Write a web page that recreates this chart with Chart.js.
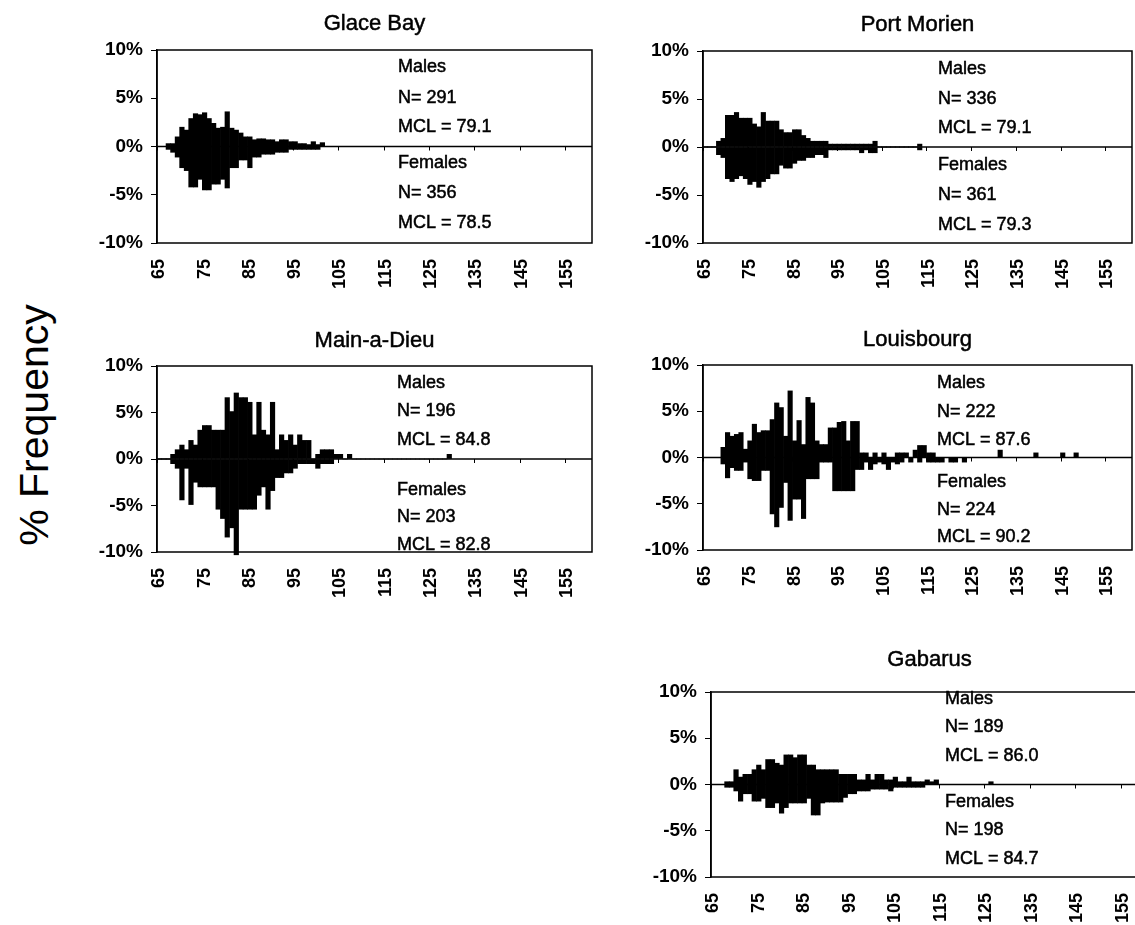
<!DOCTYPE html>
<html lang="en">
<head>
<meta charset="UTF-8">
<title>Carapace length frequency by port</title>
<script src="https://cdn.jsdelivr.net/npm/chart.js@4.4.0"></script>
<style>
  body {
    margin: 0;
    background: #fff;
    width: 1135px;
    height: 925px;
    overflow: hidden;
    position: relative;
    font-family: "Liberation Sans", Arial, sans-serif;
  }
  canvas.panel { position: absolute; }
  #ytitle {
    position: absolute;
    left: 34px;
    top: 425px;
    transform: translate(-50%, -50%) rotate(-90deg);
    font-size: 41px;
    white-space: nowrap;
    color: #000;
  }
</style>
</head>
<body>
<div id="ytitle">% Frequency</div>
<canvas id="glace" class="panel"></canvas>
<canvas id="morien" class="panel"></canvas>
<canvas id="mainadieu" class="panel"></canvas>
<canvas id="louisbourg" class="panel"></canvas>
<canvas id="gabarus" class="panel"></canvas>

<script>
// 1 mm length classes, 65 to 160
const bins = [];
for (let v = 65; v <= 160; v++) bins.push(String(v));
const xTickLabels = ['65', '75', '85', '95', '105', '115', '125', '135', '145', '155'];
const yTickValues = [-10, -5, 0, 5, 10];

// % frequency per length class, starting at 65; females are plotted below zero
const glaceMales = [0, 0, 0.3, 0.3, 1.0, 2.0, 1.7, 2.9, 3.4, 3.3, 3.5, 2.9, 2.4, 1.9, 2.0, 3.6,
  1.9, 1.7, 1.4, 1.0, 1.0, 0.7, 0.8, 0.8, 0.7, 0.7, 0.5, 0.7, 0.7, 0.5, 0.5, 0.3, 0.3, 0.2, 0.5, 0.2, 0.4];
const glaceFemales = [0, 0, -0.3, -0.6, -1.1, -2.2, -2.5, -4.2, -4.2, -3.4, -4.5, -4.5, -3.9, -3.9, -3.4, -4.3,
  -2.2, -2.2, -1.4, -1.4, -2.2, -1.1, -1.1, -0.8, -0.8, -0.8, -0.6, -0.6, -0.6, -0.3, -0.3, -0.3, -0.3, -0.3, -0.3, -0.3];

const morienMales = [0, 0, 0, 0.6, 0.9, 3.3, 3.3, 3.6, 3.0, 3.0, 3.0, 2.4, 2.1, 3.6, 2.7, 2.7,
  2.7, 1.8, 1.5, 1.5, 1.8, 1.8, 1.2, 0.9, 0.6, 0.6, 0.6, 0.6, 0.3, 0.3, 0.3, 0.3, 0.3, 0.3, 0.3, 0.3,
  0.3, 0.3, 0.6, 0, 0, 0, 0, 0, 0, 0, 0, 0, 0.3];
const morienFemales = [0, 0, 0, -0.8, -1.1, -3.3, -3.6, -3.3, -3.0, -3.3, -3.9, -3.6, -4.2, -3.6, -3.3, -2.8,
  -2.8, -1.9, -2.2, -2.2, -1.7, -1.4, -1.4, -1.1, -1.1, -0.8, -0.8, -1.1, -0.3, -0.3, -0.3, -0.3, -0.3, -0.3, -0.3, -0.6,
  -0.3, -0.6, -0.6, 0, 0, 0, 0, 0, 0, 0, 0, 0, -0.3];

const mainMales = [0, 0, 0, 0.5, 1.0, 1.5, 1.0, 2.0, 1.5, 3.1, 3.6, 3.6, 3.1, 3.1, 3.1, 6.6,
  5.1, 7.1, 6.6, 6.6, 6.1, 2.6, 6.1, 3.1, 2.6, 6.1, 1.0, 2.6, 2.0, 2.6, 1.5, 2.6, 2.0, 2.0, 0, 0.5,
  1.0, 1.0, 1.0, 0.5, 0.5, 0, 0.5, 0, 0, 0, 0, 0, 0, 0, 0, 0, 0, 0, 0, 0,
  0, 0, 0, 0, 0, 0, 0, 0, 0.5];
const mainFemales = [0, 0, 0, -0.5, -1.0, -4.4, -1.0, -4.9, -2.5, -3.0, -3.0, -3.0, -3.0, -5.4, -6.4, -8.4,
  -7.4, -10.3, -5.4, -5.4, -5.4, -5.4, -3.9, -3.0, -5.4, -3.4, -2.0, -2.0, -1.5, -1.5, -1.0, -0.5, -0.5, -0.5, -0.5, -1.0,
  -0.5, -0.5, -0.5];

const louisMales = [0, 0, 0, 0, 1.1, 2.7, 2.3, 2.5, 2.7, 0.9, 1.8, 3.6, 2.7, 2.9, 2.9, 4.1,
  5.9, 5.4, 2.3, 7.2, 1.8, 4.0, 1.4, 6.5, 5.9, 1.8, 1.4, 1.4, 3.2, 3.2, 3.8, 3.9, 1.8, 3.9, 3.9, 0.5,
  0.5, 0, 0.5, 0, 0.5, 0, 0, 0.5, 0.5, 0.5, 0, 0.8, 1.3, 1.3, 0.5, 0.5, 0, 0, 0, 0,
  0, 0, 0, 0, 0, 0, 0, 0, 0, 0, 0.8, 0, 0, 0, 0, 0, 0, 0, 0.5, 0, 0, 0, 0, 0,
  0.5, 0, 0, 0.5];
const louisFemales = [0, 0, 0, 0, -0.7, -2.2, -1.1, -1.4, -1.4, -0.5, -2.3, -2.5, -2.5, -1.4, -1.4, -6.1,
  -7.5, -5.4, -2.7, -6.8, -4.5, -4.5, -6.6, -2.3, -2.3, -2.3, -0.5, -0.5, -0.5, -3.6, -3.6, -3.6, -3.6, -3.6, -1.3, -1.3,
  -0.5, -1.3, -0.7, -0.5, -0.7, -1.3, -0.5, -0.7, -0.5, 0, -0.5, 0, -0.5, 0, -0.5, -0.5, -0.5, -0.5, 0, -0.5,
  -0.5, 0, -0.5];

const gabarusMales = [0, 0, 0, 0.3, 0.3, 1.6, 0.8, 1.1, 1.1, 1.6, 2.1, 1.6, 2.7, 2.7, 2.3, 2.1,
  3.2, 3.2, 2.9, 3.2, 3.2, 2.1, 2.1, 1.6, 1.6, 1.6, 1.6, 1.6, 1.1, 1.1, 1.1, 1.1, 0.5, 0.5, 1.1, 0.5,
  1.1, 1.1, 0.5, 0.5, 0.8, 0.3, 0.3, 0.8, 0.3, 0.3, 0.3, 0.5, 0.3, 0.5, 0, 0, 0, 0, 0, 0,
  0, 0, 0, 0, 0, 0.3];
const gabarusFemales = [0, 0, 0, -0.3, -0.3, -0.7, -1.8, -1.0, -1.0, -1.8, -1.8, -1.5, -2.5, -2.5, -2.0, -3.1,
  -2.5, -2.0, -2.0, -2.0, -2.0, -1.5, -3.3, -3.3, -2.0, -1.9, -1.9, -1.9, -1.9, -1.4, -1.0, -1.0, -0.7, -0.7, -0.7, -0.5,
  -0.5, -0.5, -0.5, -0.7, -0.3, -0.3, -0.3, -0.3, -0.3, -0.3, -0.3];

// plot box = [left, top, right, bottom] in page pixels; textY = offsets of the six label lines from the top
const panels = [
  { id: 'glace', title: 'Glace Bay', males: glaceMales, females: glaceFemales,
    notes: ['Males', 'N= 291', 'MCL = 79.1', 'Females', 'N= 356', 'MCL = 78.5'],
    box: [157, 50, 592, 243], titleGap: 26, textX: 241, textY: [17, 48, 77, 113, 143, 173] },
  { id: 'morien', title: 'Port Morien', males: morienMales, females: morienFemales,
    notes: ['Males', 'N= 336', 'MCL = 79.1', 'Females', 'N= 361', 'MCL = 79.3'],
    box: [703, 51, 1132, 243], titleGap: 26, textX: 235, textY: [18, 48, 77, 114, 144, 174] },
  { id: 'mainadieu', title: 'Main-a-Dieu', males: mainMales, females: mainFemales,
    notes: ['Males', 'N= 196', 'MCL = 84.8', 'Females', 'N= 203', 'MCL = 82.8'],
    box: [157, 366, 592, 552], titleGap: 25, textX: 240, textY: [17, 45, 74, 124, 151, 179] },
  { id: 'louisbourg', title: 'Louisbourg', males: louisMales, females: louisFemales,
    notes: ['Males', 'N= 222', 'MCL = 87.6', 'Females', 'N= 224', 'MCL = 90.2'],
    box: [703, 365, 1132, 550], titleGap: 25, textX: 234, textY: [18, 47, 75, 117, 145, 172] },
  { id: 'gabarus', title: 'Gabarus', males: gabarusMales, females: gabarusFemales,
    notes: ['Males', 'N= 189', 'MCL = 86.0', 'Females', 'N= 198', 'MCL = 84.7'],
    box: [711, 692, 1148, 877], titleGap: 32, textX: 234, textY: [7, 35, 64, 110, 138, 167] }
];

const FONT = '"Liberation Sans", Arial, sans-serif';
const PAD_LEFT = 80, PAD_TOP = 50, PAD_RIGHT = 8, AXIS_H = 60;

// filled text with a thin outline so it reads a little heavier
function heavyText(ctx, text, x, y) {
  ctx.fillText(text, x, y);
  ctx.strokeText(text, x, y);
}

// frame, zero line, panel title and the sample size notes
const panelDecor = {
  id: 'panelDecor',
  beforeDatasetsDraw(chart, args, opts) {
    const { ctx, chartArea: a, scales: { x, y } } = chart;
    const y0 = y.getPixelForValue(0);
    const half = (x.getPixelForValue(1) - x.getPixelForValue(0)) / 2;
    ctx.save();
    ctx.strokeStyle = '#000';
    ctx.lineWidth = 1.5;
    ctx.beginPath();
    ctx.moveTo(a.left, y0);
    ctx.lineTo(a.right, y0);
    ctx.stroke();
    ctx.lineWidth = 1;
    ctx.beginPath();
    xTickLabels.forEach(l => {
      const px = Math.round(x.getPixelForValue(bins.indexOf(l)) - half) + 0.5;
      ctx.moveTo(px, y0);
      ctx.lineTo(px, y0 + 4);
    });
    ctx.stroke();
    ctx.restore();
  },
  afterDraw(chart, args, opts) {
    const { ctx, chartArea: a } = chart;
    ctx.save();
    ctx.strokeStyle = '#000';
    ctx.lineWidth = 1.5;
    ctx.strokeRect(a.left, a.top, a.right - a.left, a.bottom - a.top);
    ctx.fillStyle = '#000';
    ctx.lineWidth = 0.5;
    ctx.textAlign = 'center';
    ctx.textBaseline = 'middle';
    ctx.font = '22px ' + FONT;
    heavyText(ctx, opts.title, (a.left + a.right) / 2, a.top - opts.titleGap);
    ctx.textAlign = 'left';
    ctx.font = '18px ' + FONT;
    opts.notes.forEach((t, i) => heavyText(ctx, t, a.left + opts.textX, a.top + opts.textY[i]));
    ctx.restore();
  }
};

panels.forEach(p => {
  const [L, T, R, B] = p.box;
  const canvas = document.getElementById(p.id);
  canvas.width = R - L + PAD_LEFT + PAD_RIGHT;
  canvas.height = B - T + PAD_TOP + AXIS_H;
  canvas.style.left = (L - PAD_LEFT) + 'px';
  canvas.style.top = (T - PAD_TOP) + 'px';

  const barStyle = {
    backgroundColor: '#000',
    borderWidth: 0,
    barPercentage: 1,
    categoryPercentage: 1,
    grouped: false,
    clip: false
  };

  new Chart(canvas, {
    type: 'bar',
    data: {
      labels: bins,
      datasets: [
        { label: 'Males', data: p.males, ...barStyle },
        { label: 'Females', data: p.females, ...barStyle }
      ]
    },
    options: {
      responsive: false,
      animation: false,
      layout: { padding: { top: PAD_TOP, right: PAD_RIGHT, left: 0, bottom: 0 } },
      plugins: {
        legend: { display: false },
        tooltip: { enabled: false },
        panelDecor: { title: p.title, titleGap: p.titleGap, notes: p.notes, textX: p.textX, textY: p.textY }
      },
      scales: {
        x: {
          type: 'category',
          offset: true,
          grid: { display: false },
          border: { display: false },
          afterFit: s => { s.height = AXIS_H; s.paddingLeft = 0; s.paddingRight = 0; },
          ticks: {
            autoSkip: false,
            minRotation: 90,
            maxRotation: 90,
            padding: 8,
            color: '#000',
            font: { family: FONT, size: 18, weight: 'bold' },
            callback: (v, i) => xTickLabels.includes(bins[i]) ? bins[i] : ''
          }
        },
        y: {
          min: -10,
          max: 10,
          afterFit: s => { s.width = PAD_LEFT; },
          afterBuildTicks: s => { s.ticks = yTickValues.map(v => ({ value: v })); },
          grid: { drawOnChartArea: false, drawTicks: true, tickLength: 6, color: '#000', lineWidth: 1 },
          border: { display: true, color: '#000', width: 1.5 },
          ticks: {
            padding: 8,
            color: '#000',
            font: { family: FONT, size: 19, weight: 'bold' },
            callback: v => v + '%'
          }
        }
      }
    },
    plugins: [panelDecor]
  });
});
</script>
</body>
</html>
